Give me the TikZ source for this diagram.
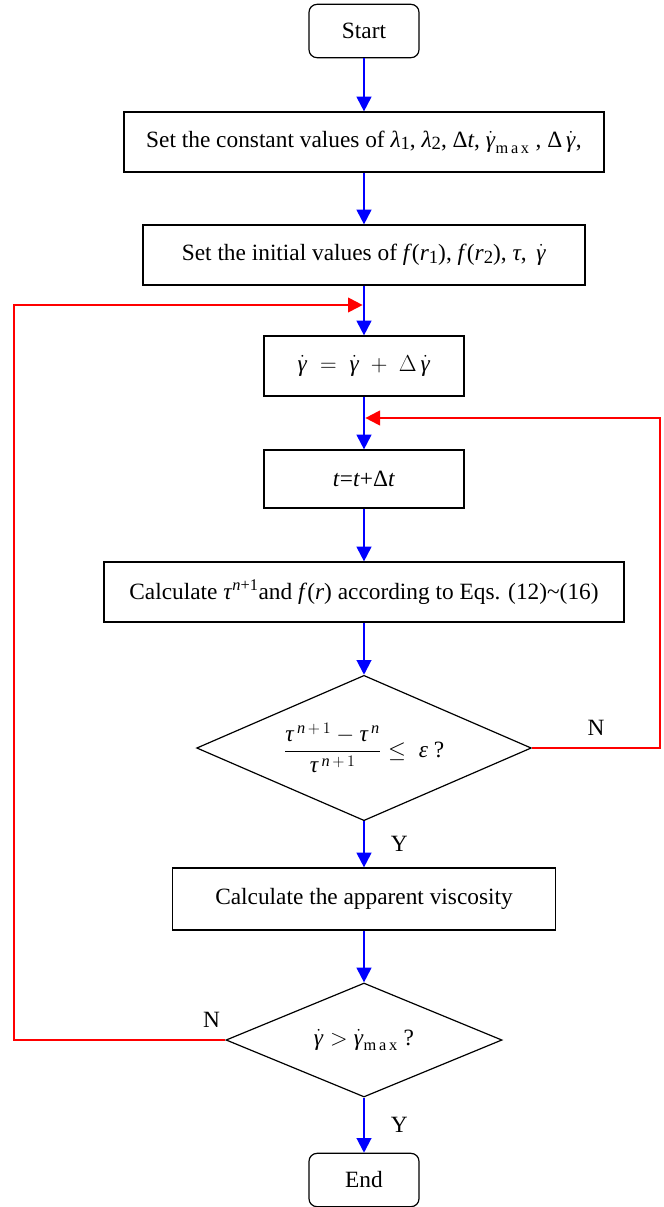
\documentclass[tikz,border=0pt]{standalone}
\usepackage{amssymb}
\usepackage{amsmath}
\usepackage{fontspec}
\setmainfont{Liberation Serif}
\usetikzlibrary{arrows.meta,shapes.geometric}
\newcommand\tx[1]{\text{\textit{#1}}}
\newcommand\gdot{\ensuremath{\dot{\tx{γ}}}}
\newcommand\lowi[1]{\raisebox{-0.25ex}{\fontsize{14}{14}\selectfont #1}}

\begin{document}
\begin{tikzpicture}[x=0.75pt,y=-0.75pt,>={Triangle[width=11pt,length=11pt]},
		font=\fontsize{17.5}{21}\selectfont,
		term/.style={draw,rounded corners=6pt,line width=0.9pt,minimum width=82.5pt,minimum height=40pt},
		proc/.style={draw,line width=0.9pt,minimum height=45pt},
		decide/.style={draw,diamond,line width=0.9pt,inner sep=0pt},
		flow/.style={->,blue,line width=1.5pt},
		back/.style={->,red,line width=1.5pt,shorten >=1pt},
		yn/.style={text=black}]
		\useasboundingbox (0,0) rectangle (664,1207);
		\node (start) [term] at (364,31) {Start};
		\node (cons) [proc,minimum width=360pt,node distance=83.25pt,below of=start] {Set the constant values of \textit{λ}\lowi{1}, \textit{λ}\lowi{2}, Δ\textit{t}, $\gdot_{\text{m\,a\,x}}$ , Δ\,\gdot,};
		\node (init) [proc,minimum width=331.5pt,node distance=84.75pt,below of=cons] {Set the initial values of \textit{f}(\textit{r}\lowi{1}), \textit{f}(\textit{r}\lowi{2}), \textit{τ}, \,\gdot};
		\node (upd) [proc,minimum width=150pt,node distance=83.25pt,below of=init] {$\gdot\;=\;\gdot\;+\;\Delta\,\gdot$};
		\node (tstep) [proc,minimum width=150pt,minimum height=43.5pt,node distance=84.75pt,below of=upd] {\textit{t}=\textit{t}+Δ\textit{t}};
		\node (calc) [proc,minimum width=390pt,node distance=84.75pt,below of=tstep] {Calculate \textit{τ}\textsuperscript{\textit{n}+1}and \textit{f}(\textit{r}) according to Eqs. (12)\textasciitilde(16)};
		\node (conv) [decide,aspect=2.3,minimum width=251pt,minimum height=109pt,node distance=117pt,below of=calc] {$\dfrac{\tx{τ}^{\,\tx{n}\,+\,1}-\tx{τ}^{\,\tx{n}}}{\tx{τ}^{\,\tx{n}\,+\,1}}\le\;\tx{ε}$ ?};
		\node (visc) [proc,minimum width=287pt,minimum height=46.5pt,node distance=113.25pt,below of=conv] {Calculate the apparent viscosity};
		\node (check) [decide,aspect=2.4,minimum width=207pt,minimum height=85.5pt,node distance=105.75pt,below of=visc] {$\gdot>\gdot_{\text{m\,a\,x}}$ ?};
		\node (stop) [term,node distance=105pt,below of=check] {End};
		\coordinate (j1) at (364,305);
		\coordinate (lx) at (14,305);
		\coordinate (j2) at (364,418);
		\coordinate (rx) at (660,418);
		\draw[flow] (start) -- (cons);
		\draw[flow] (cons) -- (init);
		\draw[flow] (init) -- (upd);
		\draw[flow] (upd) -- (tstep);
		\draw[flow] (tstep) -- (calc);
		\draw[flow] (calc) -- (conv);
		\draw[flow] (conv) -- node[yn,right=16pt]{Y} (visc);
		\draw[flow] (visc) -- (check);
		\draw[flow] (check) -- node[yn,right=16pt]{Y} (stop);
		\draw[back] (conv.east) -| node[yn,pos=0.25,above=5pt]{N} (rx) -- (j2);
		\draw[back] (check.west) node[yn,above left,yshift=5pt]{N} -| (lx) -- (j1);
\end{tikzpicture}
\end{document}
